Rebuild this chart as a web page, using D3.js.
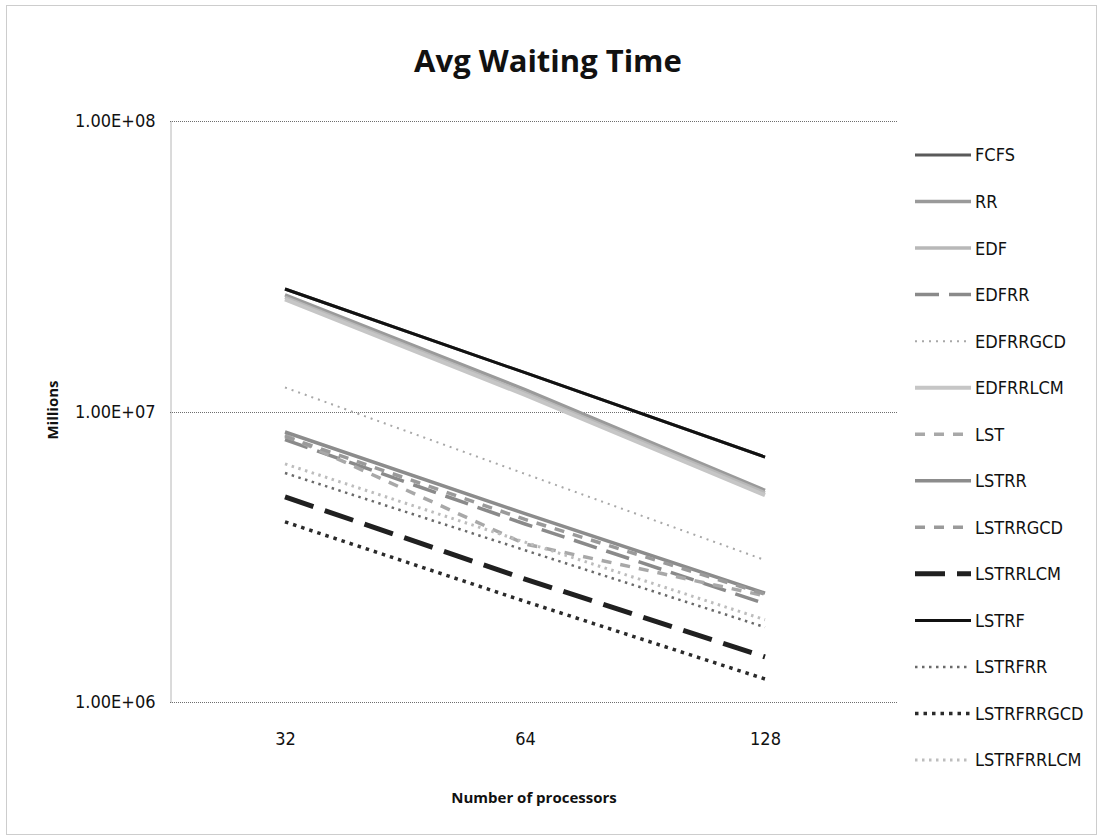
<!DOCTYPE html>
<html>
<head>
<meta charset="utf-8">
<script src="https://cdn.jsdelivr.net/npm/d3@7"></script>
<style>
  html, body { margin: 0; padding: 0; background: #fff; }
  svg { display: block; }
  .narrow { font-family: "Liberation Sans Narrow", "DejaVu Sans Condensed", "Arial Narrow", sans-serif; }
</style>
</head>
<body>
<svg id="chart" width="1103" height="840"></svg>
<script>
// Number of processors (x categories)
const categories = ["32", "64", "128"];

// Average waiting time per scheduling policy, one value per processor count
const FCFS       = [2.64e7, 1.36e7, 6.97e6];
const RR         = [2.52e7, 1.19e7, 5.35e6];
const EDF        = [2.47e7, 1.16e7, 5.25e6];
const EDFRR      = [8.0e6, 4.1e6, 2.18e6];
const EDFRRGCD   = [1.21e7, 6.1e6, 3.08e6];
const EDFRRLCM   = [2.43e7, 1.14e7, 5.15e6];
const LST        = [8.3e6, 3.5e6, 2.32e6];
const LSTRR      = [8.5e6, 4.45e6, 2.37e6];
const LSTRRGCD   = [8.2e6, 4.25e6, 2.35e6];
const LSTRRLCM   = [5.08e6, 2.65e6, 1.43e6];
const LSTRF      = [2.64e7, 1.36e7, 6.97e6];
const LSTRFRR    = [6.14e6, 3.33e6, 1.81e6];
const LSTRFRRGCD = [4.17e6, 2.22e6, 1.2e6];
const LSTRFRRLCM = [6.6e6, 3.55e6, 1.92e6];

// Y axis tick values and their labels
const yTicks = [1e6, 1e7, 1e8];
const yTickLabels = ["1.00E+06", "1.00E+07", "1.00E+08"];

const seriesNames = ["FCFS", "RR", "EDF", "EDFRR", "EDFRRGCD", "EDFRRLCM", "LST", "LSTRR",
  "LSTRRGCD", "LSTRRLCM", "LSTRF", "LSTRFRR", "LSTRFRRGCD", "LSTRFRRLCM"];
const seriesValues = [FCFS, RR, EDF, EDFRR, EDFRRGCD, EDFRRLCM, LST, LSTRR,
  LSTRRGCD, LSTRRLCM, LSTRF, LSTRFRR, LSTRFRRGCD, LSTRFRRLCM];

// Line styling per series (stroke colour, width, dash pattern)
const styles = {
  FCFS:       { color: "#5a5a5a", width: 3,   dash: null },
  RR:         { color: "#9a9a9a", width: 3.5, dash: null },
  EDF:        { color: "#b8b8b8", width: 3.5, dash: null },
  EDFRR:      { color: "#8a8a8a", width: 3.5, dash: "24,10" },
  EDFRRGCD:   { color: "#a8a8a8", width: 2,   dash: "2,5" },
  EDFRRLCM:   { color: "#c6c6c6", width: 4,   dash: null },
  LST:        { color: "#a8a8a8", width: 3.5, dash: "10,9" },
  LSTRR:      { color: "#8c8c8c", width: 3.5, dash: null },
  LSTRRGCD:   { color: "#9a9a9a", width: 3.5, dash: "10,9" },
  LSTRRLCM:   { color: "#202020", width: 5,   dash: "30,12" },
  LSTRF:      { color: "#111111", width: 3,   dash: null },
  LSTRFRR:    { color: "#6a6a6a", width: 2.5, dash: "2.5,4.5" },
  LSTRFRRGCD: { color: "#2a2a2a", width: 3.5, dash: "3.5,5" },
  LSTRFRRLCM: { color: "#bdbdbd", width: 3,   dash: "2.5,4.5" }
};

const svg = d3.select("#chart");

// Outer chart frame
svg.append("rect")
  .attr("x", 6.5).attr("y", 5.5).attr("width", 1090).attr("height", 829)
  .attr("fill", "#fff").attr("stroke", "#9a9a9a").attr("stroke-width", 1)
  .attr("stroke-dasharray", "1,1");

const plot = { left: 170, right: 898, top: 121, bottom: 702 };

const x = d3.scalePoint().domain(categories).range([285, 765]);
const y = d3.scaleLog().domain([1e6, 1e8]).range([plot.bottom, plot.top]);

// Horizontal gridlines
svg.append("g")
  .selectAll("line")
  .data(yTicks)
  .join("line")
  .attr("x1", plot.left).attr("x2", plot.right)
  .attr("y1", d => Math.round(y(d)) + 0.5).attr("y2", d => Math.round(y(d)) + 0.5)
  .attr("stroke", "#6e6e6e").attr("stroke-width", 1)
  .attr("stroke-dasharray", "1,1");

// Y axis
const yAxis = d3.axisLeft(y)
  .tickValues(yTicks)
  .tickFormat((d, i) => yTickLabels[i])
  .tickSize(0).tickPadding(15);
const gy = svg.append("g")
  .attr("transform", `translate(${plot.left + 0.5},0)`)
  .call(yAxis);
gy.select(".domain").attr("stroke", "#6e6e6e").attr("stroke-dasharray", "1,1");
gy.selectAll("text")
  .attr("class", "narrow")
  .attr("font-size", 18)
  .attr("fill", "#111");

// X axis
const xAxis = d3.axisBottom(x).tickSize(0).tickPadding(30);
const gx = svg.append("g")
  .attr("transform", `translate(0,${plot.bottom})`)
  .call(xAxis);
gx.select(".domain").remove();
gx.selectAll("text")
  .attr("class", "narrow")
  .attr("font-size", 18)
  .attr("fill", "#111");

// Series lines
const line = d3.line()
  .x((d, i) => x(categories[i]))
  .y(d => y(d));

svg.append("g")
  .selectAll("path")
  .data(seriesNames.map((n, i) => ({ name: n, values: seriesValues[i] })))
  .join("path")
  .attr("d", d => line(d.values))
  .attr("fill", "none")
  .attr("stroke", d => styles[d.name].color)
  .attr("stroke-width", d => styles[d.name].width)
  .attr("stroke-dasharray", d => styles[d.name].dash)
  .attr("stroke-linecap", "butt");

// Title
svg.append("text")
  .attr("x", 548).attr("y", 72)
  .attr("text-anchor", "middle")
  .attr("font-family", "'Open Sans', 'Noto Sans', sans-serif")
  .attr("font-weight", "bold")
  .attr("font-size", 31)
  .attr("fill", "#111")
  .text("Avg Waiting Time");

// Axis titles
svg.append("text")
  .attr("x", 534).attr("y", 803)
  .attr("text-anchor", "middle")
  .attr("font-family", "'Open Sans', 'Noto Sans', sans-serif")
  .attr("font-weight", "bold")
  .attr("font-size", 15)
  .attr("fill", "#111")
  .text("Number of processors");

svg.append("text")
  .attr("transform", "translate(58,410) rotate(-90)")
  .attr("text-anchor", "middle")
  .attr("font-family", "'Open Sans', 'Noto Sans', sans-serif")
  .attr("font-weight", "bold")
  .attr("font-size", 15)
  .attr("fill", "#111")
  .text("Millions");

// Legend
const legend = svg.append("g");
const legendY = d3.scalePoint().domain(seriesNames).range([155, 760]);
const items = legend.selectAll("g")
  .data(seriesNames)
  .join("g")
  .attr("transform", d => `translate(0,${legendY(d)})`);
items.append("line")
  .attr("x1", 915).attr("x2", 971)
  .attr("y1", 0).attr("y2", 0)
  .attr("stroke", d => styles[d].color)
  .attr("stroke-width", d => styles[d].width)
  .attr("stroke-dasharray", d => styles[d].dash);
items.append("text")
  .attr("class", "narrow")
  .attr("x", 975).attr("y", 0).attr("dy", "0.36em")
  .attr("font-size", 18)
  .attr("fill", "#111")
  .text(d => d);
</script>
</body>
</html>
